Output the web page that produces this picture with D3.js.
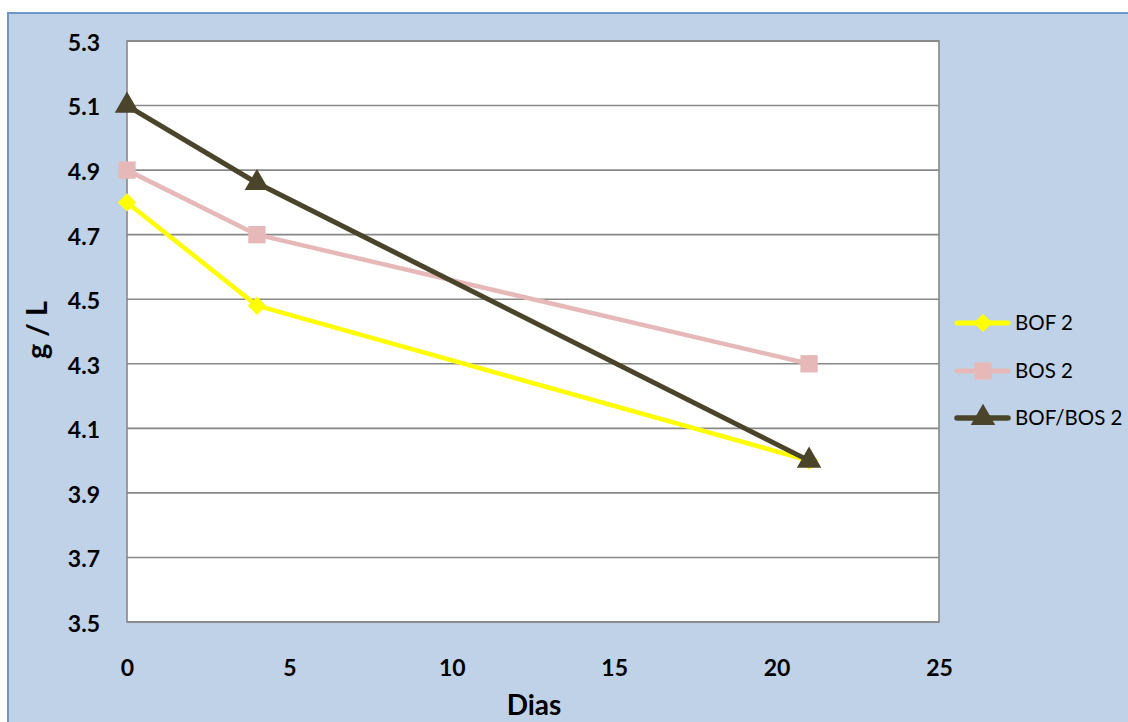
<!DOCTYPE html>
<html>
<head>
<meta charset="utf-8">
<script src="https://cdn.jsdelivr.net/npm/d3@7"></script>
<style>
html,body{margin:0;padding:0;background:#fff;}
svg{display:block;}
</style>
</head>
<body>
<svg id="chart" width="1128" height="722"></svg>
<script>
// data
var days=[0,4,21]
var bof2=[4.8,4.48,4.0]
var bos2=[4.9,4.7,4.3]
var bofbos2=[5.1,4.86,4.0]
var seriesNames=['BOF 2','BOS 2','BOF/BOS 2']
var yTicks=[3.5,3.7,3.9,4.1,4.3,4.5,4.7,4.9,5.1,5.3]
var xTicks=[0,5,10,15,20,25]

var colors=['#ffff00','#e6b9b8','#4a452a']
var shapes=[d3.symbolSquare,d3.symbolSquare,d3.symbolTriangle]
var rot=[45,0,0]
var symSize=[170,300,260]
var lineW=[4.5,4.5,5]

var svg=d3.select('#chart')
var W=1128,H=722
var m={left:127,right:939,top:41,bottom:622}
var font='Lato, "Open Sans", sans-serif'

// frame
svg.append('rect')
    .attr('x',8).attr('y',13)
    .attr('width',W+20).attr('height',H+20)
    .attr('fill','#c0d2e7')
    .attr('stroke','#6f95c9')
    .attr('stroke-width',2)

var x=d3.scaleLinear().domain([0,25]).range([m.left,m.right])
var y=d3.scaleLinear().domain([3.5,5.3]).range([m.bottom,m.top])

svg.append('rect')
    .attr('x',m.left).attr('y',m.top)
    .attr('width',m.right-m.left).attr('height',m.bottom-m.top)
    .attr('fill','#fff')

// gridlines
svg.append('g')
    .selectAll('line')
    .data(yTicks)
    .join('line')
    .attr('x1',m.left).attr('x2',m.right)
    .attr('y1',d=>y(d)).attr('y2',d=>y(d))
    .attr('stroke','#888')
    .attr('stroke-width',1.6)

svg.append('rect')
    .attr('x',m.left).attr('y',m.top)
    .attr('width',m.right-m.left).attr('height',m.bottom-m.top)
    .attr('fill','none')
    .attr('stroke','#888')
    .attr('stroke-width',1.6)

// axes
var yAxis=svg.append('g')
    .attr('transform',`translate(${m.left},2)`)
    .call(d3.axisLeft(y).tickValues(yTicks).tickFormat(d3.format('.1f')).tickSize(0).tickPadding(27))
yAxis.select('.domain').remove()
yAxis.selectAll('text')
    .attr('font-family',font).attr('font-weight','bold').attr('font-size',23).attr('fill','#000')

var xAxis=svg.append('g')
    .attr('transform',`translate(0,${m.bottom})`)
    .call(d3.axisBottom(x).tickValues(xTicks).tickFormat(d3.format('d')).tickSize(0).tickPadding(38))
xAxis.select('.domain').remove()
xAxis.selectAll('text')
    .attr('font-family',font).attr('font-weight','bold').attr('font-size',23).attr('fill','#000')

svg.append('text')
    .attr('x',534).attr('y',715)
    .attr('text-anchor','middle')
    .attr('font-family',font).attr('font-weight','bold').attr('font-size',28)
    .text('Dias')

svg.append('text')
    .attr('transform','translate(47,330) rotate(-90)')
    .attr('text-anchor','middle')
    .attr('font-family',font).attr('font-weight','bold').attr('font-size',29)
    .text('g / L')

// series
var all=[bof2,bos2,bofbos2]
var line=d3.line().x((d,i)=>x(days[i])).y(d=>y(d))
all.forEach(function(vals,k){
    var g=svg.append('g')
    g.append('path')
        .attr('d',line(vals))
        .attr('fill','none')
        .attr('stroke',colors[k])
        .attr('stroke-width',lineW[k])
        .attr('stroke-linejoin','round')
    g.selectAll('path.mk')
        .data(vals)
        .join('path')
        .attr('class','mk')
        .attr('transform',(d,i)=>`translate(${x(days[i])},${y(d)}) rotate(${rot[k]})`)
        .attr('d',d3.symbol().type(shapes[k]).size(symSize[k]))
        .attr('fill',colors[k])
})

// legend
var lg=svg.append('g')
var ly=[323,371,418]
seriesNames.forEach(function(name,k){
    lg.append('line')
        .attr('x1',957).attr('x2',1008)
        .attr('y1',ly[k]).attr('y2',ly[k])
        .attr('stroke',colors[k])
        .attr('stroke-width',lineW[k]+0.5)
        .attr('stroke-linecap','round')
    lg.append('path')
        .attr('transform',`translate(983,${ly[k]}) rotate(${rot[k]})`)
        .attr('d',d3.symbol().type(shapes[k]).size(symSize[k]))
        .attr('fill',colors[k])
    lg.append('text')
        .attr('x',1015).attr('y',ly[k])
        .attr('dy','0.36em')
        .attr('font-family',font).attr('font-size',20.5)
        .text(name)
})
</script>
</body>
</html>
